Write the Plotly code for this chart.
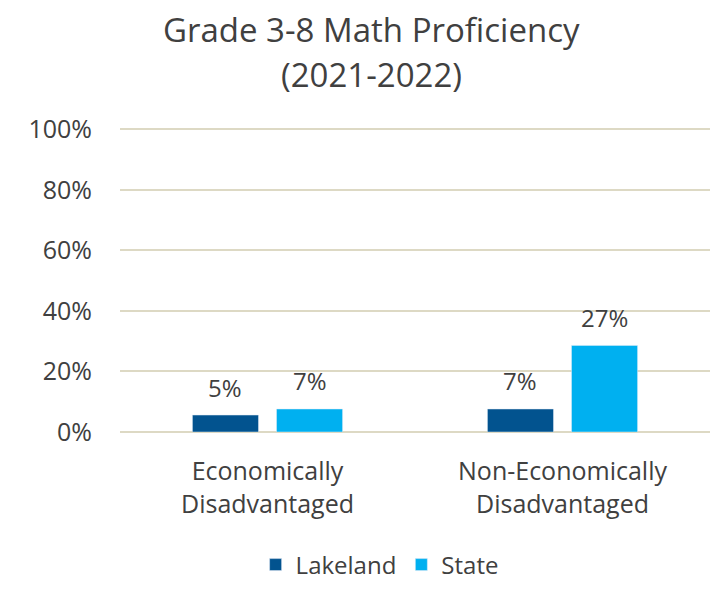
import plotly.graph_objects as go

categories = ["Economically<br>Disadvantaged", "Non-Economically<br>Disadvantaged"]
lakeland = [5.6, 7.6]
state = [7.6, 28.6]
lakeland_labels = ["5%", "7%"]
state_labels = ["7%", "27%"]
y_ticks = [0, 20, 40, 60, 80, 100]
y_tick_labels = ["0%", "20%", "40%", "60%", "80%", "100%"]
title_lines = ["Grade 3-8 Math Proficiency", "(2021-2022)"]

FONT = "Open Sans"
TXT = "#404040"
GRID = "#DDD9C4"
BARGAP = 0.43
BARGROUPGAP = 0.214
PLOT_H = 304

fig = go.Figure()
fig.add_trace(go.Bar(x=categories, y=lakeland, name="Lakeland", marker_color="#02538F"))
fig.add_trace(go.Bar(x=categories, y=state, name="State", marker_color="#00B0F0"))

# data labels above bars (offset = half of a bar slot within the group)
slot = (1 - BARGAP) / 2
for series, labels, sign in [(lakeland, lakeland_labels, -1), (state, state_labels, 1)]:
    for i, (v, t) in enumerate(zip(series, labels)):
        fig.add_annotation(x=i + sign * slot / 2, y=v, xref="x", yref="y", text=t,
                           showarrow=False, yanchor="middle", yshift=28,
                           font=dict(size=24, color=TXT, family=FONT))

# title lines
for txt, ypix in zip(title_lines, [30, 74]):
    fig.add_annotation(x=0.427, xref="paper", xanchor="center",
                       y=1 + (128 - ypix) / PLOT_H, yref="paper", yanchor="middle",
                       text=txt, showarrow=False,
                       font=dict(size=33, color=TXT, family=FONT))

fig.update_layout(
    width=710, height=584,
    margin=dict(l=112, r=8, t=120, b=160, autoexpand=False),
    paper_bgcolor="white", plot_bgcolor="white",
    font=dict(family=FONT, color=TXT, size=25),
    barmode="group", bargap=BARGAP, bargroupgap=BARGROUPGAP,
    showlegend=True,
    legend=dict(orientation="h", x=0.44, xanchor="center", y=-0.4375, yanchor="middle",
                font=dict(size=24, color=TXT, family=FONT)),
    xaxis=dict(showgrid=False, showline=False, ticks="", automargin=False,
               tickfont=dict(size=25, color=TXT), ticklabelstandoff=22),
    yaxis=dict(range=[0, 100.4], tickvals=y_ticks, ticktext=y_tick_labels,
               showgrid=True, gridcolor=GRID, gridwidth=2, zeroline=True,
               zerolinecolor=GRID, zerolinewidth=2, automargin=False,
               tickfont=dict(size=25, color=TXT), ticklabelstandoff=27),
)

fig.write_html("out.html")
